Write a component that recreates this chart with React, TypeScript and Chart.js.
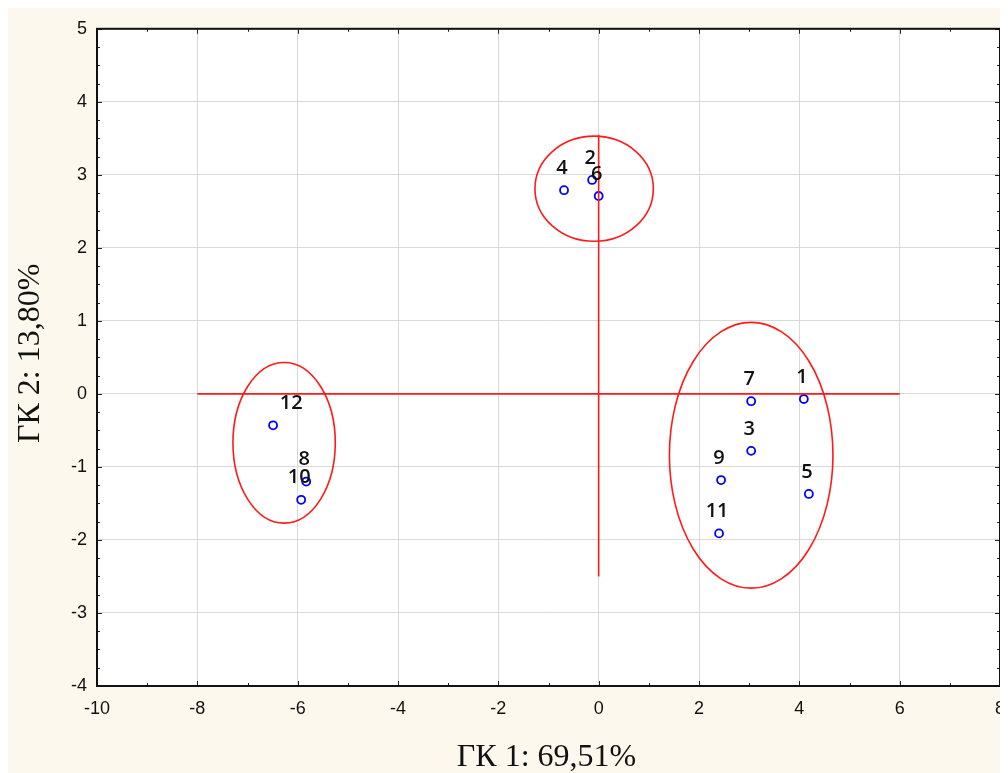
import React, { useEffect, useRef } from "react";
import { Chart, registerables } from "chart.js";

Chart.register(...registerables);

// Observation labels and PCA scores
const pointLabels = ["1", "2", "3", "4", "5", "6", "7", "8", "9", "10", "11", "12"];
const pc1Scores = [4.09, -0.13, 3.04, -0.69, 4.19, 0.0, 3.04, -5.83, 2.44, -5.93, 2.40, -6.49];
const pc2Scores = [-0.07, 2.93, -0.78, 2.79, -1.37, 2.71, -0.10, -1.20, -1.18, -1.45, -1.91, -0.43];
// label offset in data units along x (label 12 drawn right of its point)
const labelShiftX = [0, 0, 0, 0, 0, 0, 0, 0, 0, 0, 0, 0.4];

// Cluster ellipses: centre x, centre y, radius x, radius y (data units)
const ellipseCx = [-0.09, -6.27, 3.04];
const ellipseCy = [2.81, -0.67, -0.84];
const ellipseRx = [1.18, 1.02, 1.63];
const ellipseRy = [0.72, 1.10, 1.82];

// Crosshair lines
const hLineX = [-8, 6];
const hLineY = [0, 0];
const vLineX = [0, 0];
const vLineY = [3.55, -2.5];

const xTitle = "ГК 1: 69,51%";
const yTitle = "ГК 2: 13,80%";

const X_MIN = -10, X_MAX = 8, X_STEP = 2;
const Y_MIN = -4, Y_MAX = 5, Y_STEP = 1;

const extrasPlugin = {
  id: "extras",
  beforeDatasetsDraw(chart: any) {
    const { ctx, scales } = chart;
    const xs = scales.x, ys = scales.y;
    ctx.save();
    ctx.strokeStyle = "#ff1a1a";
    ctx.lineWidth = 1.6;
    for (let i = 0; i < ellipseCx.length; i++) {
      const cx = xs.getPixelForValue(ellipseCx[i]);
      const cy = ys.getPixelForValue(ellipseCy[i]);
      const rx = Math.abs(xs.getPixelForValue(ellipseCx[i] + ellipseRx[i]) - cx);
      const ry = Math.abs(ys.getPixelForValue(ellipseCy[i] + ellipseRy[i]) - cy);
      ctx.beginPath();
      ctx.ellipse(cx, cy, rx, ry, 0, 0, Math.PI * 2);
      ctx.stroke();
    }
    ctx.restore();
  },
  afterDraw(chart: any) {
    const { ctx, scales, chartArea } = chart;
    const xs = scales.x, ys = scales.y;
    const { left, right, top, bottom } = chartArea;
    ctx.save();
    // point labels
    ctx.font = "600 20px 'Open Sans', sans-serif";
    ctx.fillStyle = "#111";
    ctx.textAlign = "center";
    ctx.textBaseline = "middle";
    for (let i = 0; i < pointLabels.length; i++) {
      const px = xs.getPixelForValue(pc1Scores[i] + labelShiftX[i]) - 2;
      const py = ys.getPixelForValue(pc2Scores[i]) - 22;
      ctx.fillText(pointLabels[i], px, py);
    }
    // ticks inside frame
    ctx.strokeStyle = "#222";
    ctx.lineWidth = 1;
    for (let v = X_MIN; v <= X_MAX + 1e-9; v += X_STEP / 2) {
      const x = Math.round(xs.getPixelForValue(v)) + 0.5;
      const major = Math.abs((v - X_MIN) % X_STEP) < 1e-9;
      const len = major ? 5 : 3;
      ctx.beginPath();
      ctx.moveTo(x, bottom); ctx.lineTo(x, bottom - len);
      ctx.moveTo(x, top); ctx.lineTo(x, top + len);
      ctx.stroke();
    }
    for (let v = Y_MIN; v <= Y_MAX + 1e-9; v += Y_STEP / 4) {
      const y = Math.round(ys.getPixelForValue(v)) + 0.5;
      const major = Math.abs((v - Y_MIN) % Y_STEP) < 1e-9;
      const len = major ? 5 : 3;
      ctx.beginPath();
      ctx.moveTo(left, y); ctx.lineTo(left + len, y);
      ctx.moveTo(right, y); ctx.lineTo(right - len, y);
      ctx.stroke();
    }
    // frame
    ctx.strokeStyle = "#111";
    ctx.lineWidth = 2;
    ctx.strokeRect(left, top, right - left, bottom - top);
    // axis titles
    ctx.fillStyle = "#111";
    ctx.font = "32px 'Liberation Serif', 'Times New Roman', serif";
    ctx.textAlign = "center";
    ctx.textBaseline = "middle";
    ctx.fillText(xTitle, (left + right) / 2 - 2, 750);
    ctx.translate(23, (top + bottom) / 2 - 4);
    ctx.rotate(-Math.PI / 2);
    ctx.fillText(yTitle, 0, 0);
    ctx.restore();
  },
};

const bgPlugin = {
  id: "bg",
  beforeDraw(chart: any) {
    const { ctx, chartArea } = chart;
    ctx.save();
    ctx.fillStyle = "#ffffff";
    ctx.fillRect(chartArea.left, chartArea.top, chartArea.right - chartArea.left, chartArea.bottom - chartArea.top);
    ctx.restore();
  },
};

export default function App() {
  const ref = useRef<HTMLCanvasElement | null>(null);
  useEffect(() => {
    if (!ref.current) return;
    const points = pc1Scores.map((x, i) => ({ x, y: pc2Scores[i] }));
    const hLine = hLineX.map((x, i) => ({ x, y: hLineY[i] }));
    const vLine = vLineX.map((x, i) => ({ x, y: vLineY[i] }));
    const tickFont = { family: "'Liberation Sans', Arial, sans-serif", size: 18 };
    const chart = new Chart(ref.current, {
      type: "scatter",
      data: {
        datasets: [
          {
            data: hLine,
            showLine: true,
            borderColor: "#ff1a1a",
            borderWidth: 1.6,
            pointRadius: 0,
          },
          {
            data: vLine,
            showLine: true,
            borderColor: "#ff1a1a",
            borderWidth: 1.6,
            pointRadius: 0,
          },
          {
            data: points,
            pointRadius: 4,
            pointBorderWidth: 1.8,
            pointBorderColor: "#0000ff",
            pointBackgroundColor: "#ffffff",
            borderColor: "#0000ff",
            backgroundColor: "#ffffff",
          },
        ],
      },
      options: {
        animation: false,
        responsive: false,
        maintainAspectRatio: false,
        layout: { padding: { top: 17, right: 8, left: 0, bottom: 0 } },
        plugins: { legend: { display: false }, tooltip: { enabled: false } },
        scales: {
          x: {
            type: "linear",
            min: X_MIN,
            max: X_MAX,
            afterFit(scale: any) { scale.height = 87; scale.paddingRight = 0; },
            ticks: { stepSize: X_STEP, font: tickFont, color: "#111", padding: 12, maxRotation: 0 },
            grid: { color: "#d9d9d9", lineWidth: 1, drawTicks: false },
            border: { display: false },
          },
          y: {
            type: "linear",
            min: Y_MIN,
            max: Y_MAX,
            afterFit(scale: any) { scale.width = 89; },
            ticks: { stepSize: Y_STEP, font: tickFont, color: "#111", padding: 10 },
            grid: { color: "#d9d9d9", lineWidth: 1, drawTicks: false },
            border: { display: false },
          },
        },
      },
      plugins: [bgPlugin, extrasPlugin],
    });
    return () => chart.destroy();
  }, []);
  return (
    <div style={{ width: 1000, height: 765, background: "#fdf8ee" }}>
      <canvas ref={ref} width={1000} height={765} style={{ display: "block" }} />
    </div>
  );
}
